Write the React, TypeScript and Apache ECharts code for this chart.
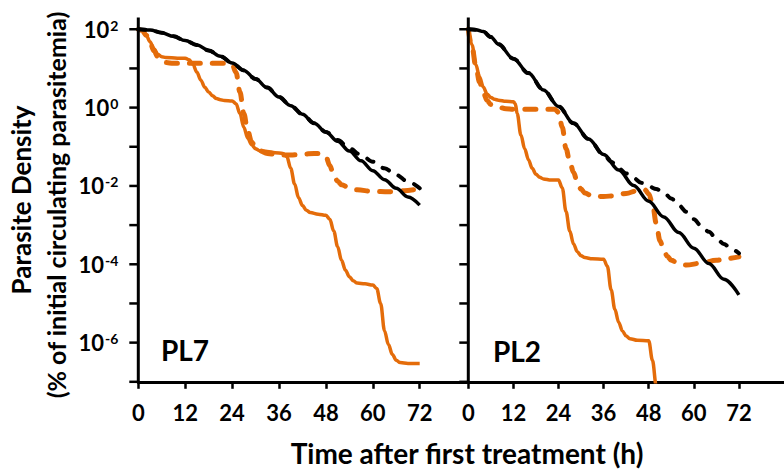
import { useEffect, useRef } from "react";
import * as echarts from "echarts";

// ---- axis ticks ----
const hourTicks = [0, 12, 24, 36, 48, 60, 72];
const yTickExponents = [-7, -6, -5, -4, -3, -2, -1, 0, 1, 2];
const yLabelExponents = [-6, -4, -2, 0, 2];
const Y_MIN = -7;
const Y_MAX = 2.3;

// ---- data: parasite density as log10(% of initial circulating parasitemia) ----
// PL7 panel
const pl7BlackSolidHours = [0, 3, 6, 9, 12, 15, 18, 21, 24, 27, 30, 33, 36, 39, 42, 45, 48, 51, 54, 57, 60, 63, 66, 69, 72];
const pl7BlackSolidLog = [2.0, 1.98, 1.91, 1.82, 1.71, 1.6, 1.46, 1.31, 1.14, 0.95, 0.73, 0.51, 0.27, 0.05, -0.17, -0.4, -0.62, -0.86, -1.11, -1.36, -1.61, -1.84, -2.06, -2.28, -2.49];

const pl7BlackDashedHours = [0, 3, 6, 9, 12, 15, 18, 21, 24, 27, 30, 33, 36, 39, 42, 45, 48, 51, 54, 57, 60, 63, 66, 69, 72];
const pl7BlackDashedLog = [2.0, 1.98, 1.91, 1.82, 1.71, 1.6, 1.46, 1.31, 1.14, 0.95, 0.73, 0.51, 0.27, 0.05, -0.17, -0.4, -0.62, -0.83, -1.04, -1.21, -1.38, -1.55, -1.72, -1.89, -2.06];

const pl7OrangeSolidHours = [0, 1, 2, 3, 4, 5, 6, 7, 10, 12, 13, 14, 15, 16, 17, 18, 19, 20, 21, 22, 24, 25, 26, 27, 28, 29, 30, 31, 33, 35, 37, 38, 39, 40, 41, 42, 43, 44, 46, 48, 49, 50, 51, 52, 53, 54, 55, 56, 58, 60, 61, 62, 63, 64, 65, 66, 67, 69, 72];
const pl7OrangeSolidLog = [2.0, 1.97, 1.85, 1.68, 1.5, 1.36, 1.3, 1.28, 1.26, 1.26, 1.22, 1.1, 0.9, 0.7, 0.52, 0.4, 0.3, 0.23, 0.2, 0.18, 0.17, 0.1, -0.15, -0.5, -0.78, -0.95, -1.05, -1.1, -1.12, -1.15, -1.17, -1.25, -1.55, -1.95, -2.3, -2.5, -2.62, -2.68, -2.72, -2.75, -2.85, -3.15, -3.55, -3.9, -4.15, -4.32, -4.42, -4.48, -4.5, -4.53, -4.62, -5.0, -5.7, -6.05, -6.3, -6.45, -6.51, -6.53, -6.53];

const pl7OrangeDashedHours = [0, 1, 2, 3, 4, 5, 6, 7, 9, 12, 16, 20, 23, 24, 25, 26, 27, 28, 29, 30, 31, 33, 36, 39, 42, 45, 47, 48, 49, 50, 51, 52, 54, 56, 60, 64, 68, 72];
const pl7OrangeDashedLog = [2.0, 1.97, 1.85, 1.66, 1.45, 1.3, 1.2, 1.15, 1.13, 1.13, 1.13, 1.13, 1.13, 1.1, 0.9, 0.4, -0.15, -0.6, -0.88, -1.02, -1.1, -1.17, -1.21, -1.21, -1.19, -1.17, -1.18, -1.25, -1.48, -1.72, -1.88, -1.97, -2.05, -2.1, -2.14, -2.15, -2.12, -2.07];

// PL2 panel
const pl2BlackSolidHours = [0, 2, 4, 6, 8, 12, 16, 20, 24, 28, 32, 36, 40, 44, 48, 52, 56, 60, 64, 68, 72];
const pl2BlackSolidLog = [2.0, 1.99, 1.94, 1.8, 1.62, 1.25, 0.88, 0.45, 0.03, -0.4, -0.8, -1.2, -1.59, -1.99, -2.39, -2.79, -3.19, -3.59, -3.98, -4.38, -4.78];

const pl2BlackDashedHours = [0, 2, 4, 6, 8, 12, 16, 20, 24, 28, 32, 36, 38, 40, 42, 44, 46, 48, 50, 52, 54, 56, 58, 60, 62, 64, 66, 68, 70, 72];
const pl2BlackDashedLog = [2.0, 1.99, 1.94, 1.8, 1.62, 1.25, 0.88, 0.45, 0.03, -0.4, -0.8, -1.2, -1.38, -1.55, -1.68, -1.8, -1.92, -2.01, -2.08, -2.17, -2.32, -2.49, -2.66, -2.85, -3.02, -3.17, -3.34, -3.48, -3.61, -3.72];

const pl2OrangeSolidHours = [0, 1, 2, 3, 4, 5, 6, 7, 8, 10, 12, 12.5, 13, 14, 15, 16, 17, 18, 19, 20, 22, 24, 25, 26, 27, 28, 29, 30, 31, 33, 36, 37, 38, 39, 40, 41, 42, 43, 45, 48, 49, 50, 51];
const pl2OrangeSolidLog = [2.0, 1.6, 1.1, 0.78, 0.52, 0.35, 0.26, 0.21, 0.19, 0.16, 0.15, 0.1, -0.15, -0.7, -1.05, -1.33, -1.55, -1.7, -1.78, -1.82, -1.85, -1.85, -2.05, -2.65, -3.15, -3.48, -3.68, -3.78, -3.83, -3.86, -3.87, -4.05, -4.65, -5.15, -5.48, -5.7, -5.83, -5.9, -5.94, -5.95, -6.45, -7.1, -7.8];

const pl2OrangeDashedHours = [0, 1, 2, 3, 4, 5, 6, 7, 8, 10, 12, 16, 20, 23, 24, 25, 26, 27, 28, 29, 30, 31, 33, 36, 39, 42, 45, 47, 48, 49, 50, 51, 52, 53, 54, 56, 58, 62, 66, 69, 72];
const pl2OrangeDashedLog = [2.0, 1.55, 1.05, 0.65, 0.38, 0.18, 0.08, 0.03, 0.01, -0.03, -0.04, -0.04, -0.04, -0.04, -0.12, -0.5, -1.05, -1.38, -1.65, -1.9, -2.08, -2.18, -2.26, -2.27, -2.25, -2.19, -2.12, -2.1, -2.2, -2.45, -2.95, -3.4, -3.65, -3.8, -3.9, -3.98, -4.02, -3.97, -3.9, -3.85, -3.81];

const panelLabels = ["PL7", "PL2"];
const yTitleLine1 = "Parasite Density";
const yTitleLine2 = "(% of initial circulating parasitemia)";
const xTitle = "Time after first treatment (h)";

const ORANGE = "#E46C0A";
const BLACK = "#000000";
const FONT = "Lato, 'Open Sans', sans-serif";

function pairs(hours: number[], vals: number[]) {
  return hours.map((h, i) => [h, vals[i]]);
}

function makeSeries(name: string, hours: number[], vals: number[], idx: number, color: string, dashed: boolean) {
  return {
    name,
    type: "line",
    xAxisIndex: idx,
    yAxisIndex: idx,
    data: pairs(hours, vals),
    symbol: "none",
    smooth: 0.35,
    smoothMonotone: "x",
    clip: true,
    lineStyle: {
      color,
      width: dashed ? (color === BLACK ? 4 : 5) : 3.5,
      type: dashed ? (color === BLACK ? [7, 11] : [11, 12]) : "solid",
      cap: dashed ? "round" : "butt",
      join: "round",
    },
  };
}

// Vertical axis line + outward ticks, drawn through the grid's own scales.
function makeYAxisDecor(idx: number) {
  return {
    name: `y axis ${idx}`,
    type: "custom",
    xAxisIndex: idx,
    yAxisIndex: idx,
    clip: false,
    silent: true,
    z: 10,
    data: [[0, 0]],
    renderItem: (_params: any, api: any) => {
      const top = api.coord([0, Y_MAX]);
      const bot = api.coord([0, Y_MIN]);
      const children: any[] = [
        {
          type: "rect",
          shape: { x: top[0] - 1.5, y: top[1], width: 3, height: bot[1] - top[1] + 1.5 },
          style: { fill: BLACK },
        },
      ];
      yTickExponents.forEach((e) => {
        const p = api.coord([0, e]);
        children.push({
          type: "rect",
          shape: { x: p[0] - 9, y: p[1] - 1.25, width: 9, height: 2.5 },
          style: { fill: BLACK },
        });
      });
      return { type: "group", children };
    },
  };
}

const GRID_TOP = 17.5;
const GRID_H = 364.3;
const GRID_W = 328.3;
const GRID_LEFTS = [138.3, 468.3];

function makeXAxis(idx: number) {
  return {
    type: "value",
    gridIndex: idx,
    position: "bottom",
    min: 0,
    max: 84,
    axisLine: { show: true, onZero: false, lineStyle: { color: BLACK, width: 3 } },
    axisTick: { show: true, customValues: hourTicks, length: 7, inside: false, lineStyle: { color: BLACK, width: 2.5 } },
    axisLabel: {
      show: true,
      customValues: hourTicks,
      margin: 20,
      color: BLACK,
      fontSize: 22,
      fontWeight: "bold",
      fontFamily: FONT,
    },
    splitLine: { show: false },
  };
}

function makeYAxis(idx: number) {
  return {
    type: "value",
    gridIndex: idx,
    min: Y_MIN,
    max: Y_MAX,
    interval: 1,
    axisLine: { show: false },
    axisTick: { show: false },
    axisLabel: {
      show: idx === 0,
      margin: 20,
      color: BLACK,
      formatter: (v: number) => {
        const r = Math.round(v);
        if (Math.abs(v - r) > 1e-6 || yLabelExponents.indexOf(r) < 0) return "";
        return `{b|10}{s|${r}}`;
      },
      rich: {
        b: { fontSize: 22, fontWeight: "bold", fontFamily: FONT, color: BLACK },
        s: { fontSize: 14, fontWeight: "bold", fontFamily: FONT, color: BLACK, verticalAlign: "top", padding: [0, 0, 0, 1] },
      },
    },
    splitLine: { show: false },
  };
}

const textGraphics = [
  {
    type: "text",
    x: 21,
    y: 200,
    rotation: Math.PI / 2,
    style: { text: yTitleLine1, fontSize: 26, fontWeight: "bold", fontFamily: FONT, fill: BLACK, align: "center", verticalAlign: "middle" },
  },
  {
    type: "text",
    x: 56,
    y: 205,
    rotation: Math.PI / 2,
    style: { text: yTitleLine2, fontSize: 25, fontWeight: "bold", fontFamily: FONT, fill: BLACK, align: "center", verticalAlign: "middle" },
  },
  {
    type: "text",
    x: 467,
    y: 453,
    style: { text: xTitle, fontSize: 28, fontWeight: "bold", fontFamily: FONT, fill: BLACK, align: "center", verticalAlign: "middle" },
  },
  {
    type: "text",
    x: 185,
    y: 350,
    style: { text: panelLabels[0], fontSize: 28, fontWeight: "bold", fontFamily: FONT, fill: BLACK, align: "center", verticalAlign: "middle" },
  },
  {
    type: "text",
    x: 517,
    y: 351,
    style: { text: panelLabels[1], fontSize: 28, fontWeight: "bold", fontFamily: FONT, fill: BLACK, align: "center", verticalAlign: "middle" },
  },
];

export default function App() {
  const ref = useRef<HTMLDivElement>(null);
  useEffect(() => {
    if (!ref.current) return;
    const chart = echarts.init(ref.current, null, { renderer: "svg" });
    const option: any = {
      animation: false,
      backgroundColor: "#ffffff",
      grid: GRID_LEFTS.map((left) => ({ left, top: GRID_TOP, width: GRID_W, height: GRID_H, containLabel: false })),
      xAxis: [makeXAxis(0), makeXAxis(1)],
      yAxis: [makeYAxis(0), makeYAxis(1)],
      series: [
        makeSeries("PL7 orange solid", pl7OrangeSolidHours, pl7OrangeSolidLog, 0, ORANGE, false),
        makeSeries("PL7 orange dashed", pl7OrangeDashedHours, pl7OrangeDashedLog, 0, ORANGE, true),
        makeSeries("PL7 black solid", pl7BlackSolidHours, pl7BlackSolidLog, 0, BLACK, false),
        makeSeries("PL7 black dashed", pl7BlackDashedHours, pl7BlackDashedLog, 0, BLACK, true),
        makeSeries("PL2 orange solid", pl2OrangeSolidHours, pl2OrangeSolidLog, 1, ORANGE, false),
        makeSeries("PL2 orange dashed", pl2OrangeDashedHours, pl2OrangeDashedLog, 1, ORANGE, true),
        makeSeries("PL2 black solid", pl2BlackSolidHours, pl2BlackSolidLog, 1, BLACK, false),
        makeSeries("PL2 black dashed", pl2BlackDashedHours, pl2BlackDashedLog, 1, BLACK, true),
        makeYAxisDecor(0),
        makeYAxisDecor(1),
      ],
      graphic: textGraphics,
    };
    chart.setOption(option);
    return () => chart.dispose();
  }, []);
  return <div ref={ref} style={{ position: "fixed", left: 0, top: 0, width: 784, height: 469, background: "#fff" }} />;
}
